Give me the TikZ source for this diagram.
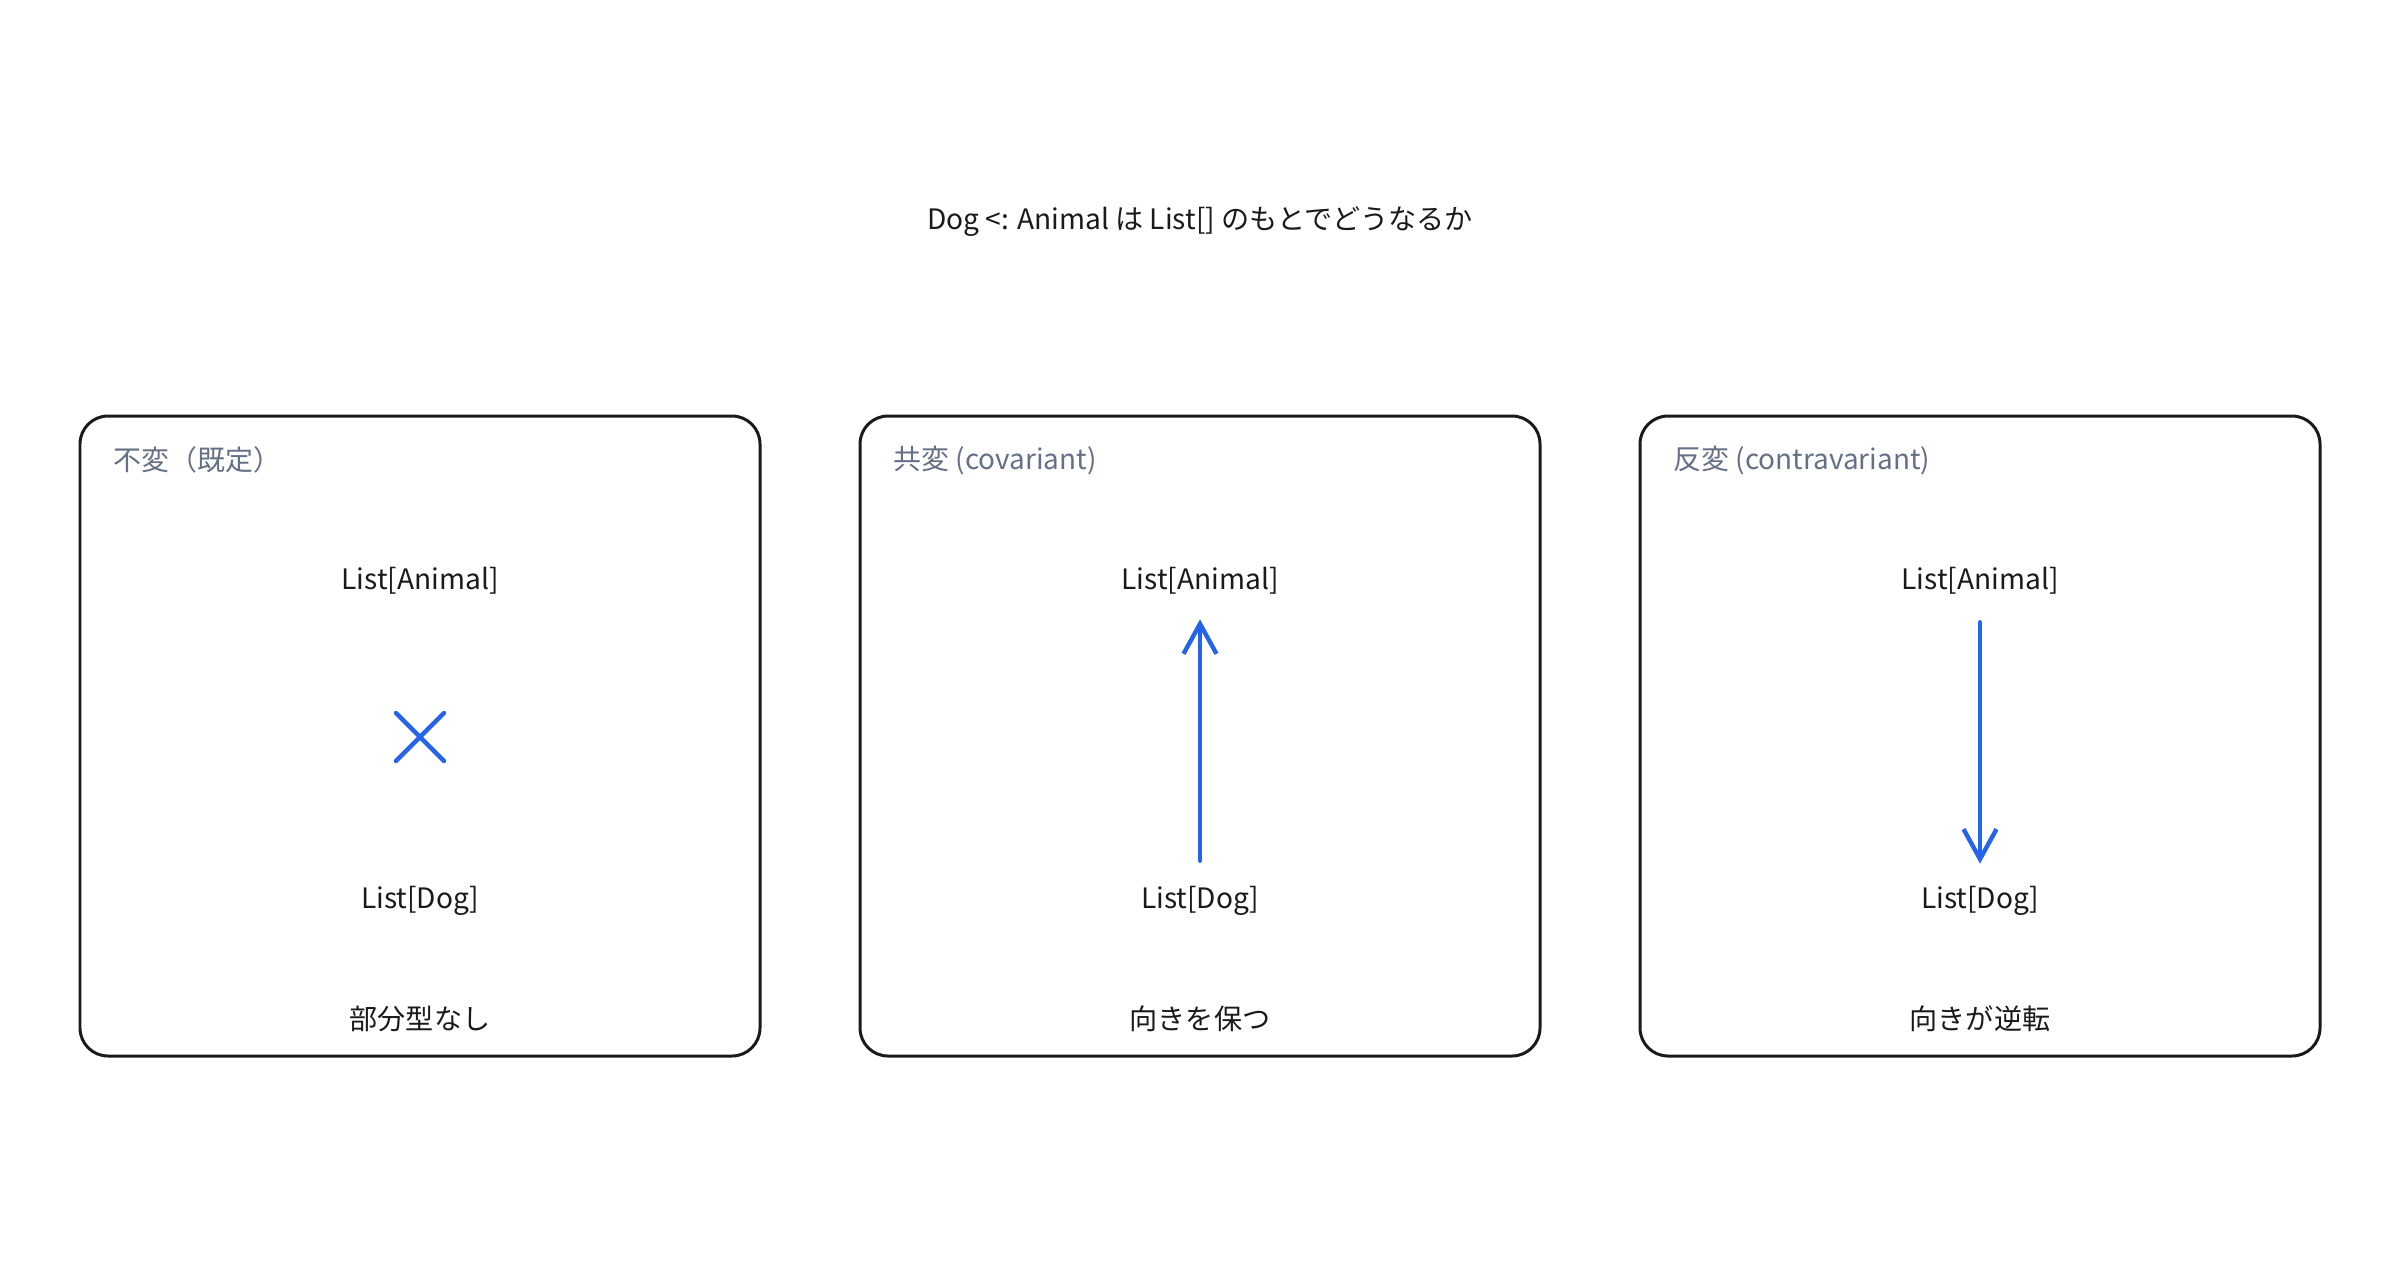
\documentclass[tikz,border=0pt]{standalone}
\usepackage{fontspec}
\setmainfont{Noto Sans CJK JP}
\usetikzlibrary{arrows.meta}
\definecolor{arrowblue}{HTML}{2563EB}
\definecolor{labelgray}{HTML}{667085}
\definecolor{inkblack}{HTML}{1A1A1A}

\begin{document}
\begin{tikzpicture}[x=0.1mm,y=-0.1mm,
  panel/.style={draw=inkblack,line width=0.85pt,rounded corners=2.8mm},
  paneltitle/.style={anchor=west,text=labelgray,inner sep=0pt,font=\fontsize{7.95pt}{9.5pt}\selectfont},
  typename/.style={text=inkblack,inner sep=0pt,font=\fontsize{8pt}{10pt}\selectfont},
  relarrow/.style={draw=arrowblue,line width=1.25pt,line cap=round,
    -{Straight Barb[length=3mm,width=3.3mm]},shorten <=2.5mm,shorten >=2.4mm},
  crossmark/.style={draw=arrowblue,line width=1.25pt,line cap=round}]
  \useasboundingbox (0,0) rectangle (2400,1260);

  % Title
  \node[typename] (title) at (1200,222) {Dog <: Animal は List[] のもとでどうなるか};

  % Invariant
  \draw[panel] (80,416) rectangle (760,1056);
  \node[paneltitle] (inv) at (113,460) {不変（既定）};
  \node[typename] (animal1) at (420,581) {List[Animal]};
  \node[typename] (dog1) at (420,901) {List[Dog]};
  \node[typename] (note1) at (420,1019) {部分型なし};
  \coordinate (cross) at (420,737);
  \draw[crossmark] (cross) ++(-24,-24) -- ++(48,48);
  \draw[crossmark] (cross) ++(-24,24) -- ++(48,-48);

  % Covariant
  \draw[panel] (860,416) rectangle (1540,1056);
  \node[paneltitle] (cov) at (893,460) {共変 (covariant)};
  \node[typename] (animal2) at (1200,581) {List[Animal]};
  \node[typename] (dog2) at (1200,901) {List[Dog]};
  \node[typename] (note2) at (1200,1019) {向きを保つ};
  \draw[relarrow] (dog2) -- (animal2);

  % Contravariant
  \draw[panel] (1640,416) rectangle (2320,1056);
  \node[paneltitle] (contra) at (1673,460) {反変 (contravariant)};
  \node[typename] (animal3) at (1980,581) {List[Animal]};
  \node[typename] (dog3) at (1980,901) {List[Dog]};
  \node[typename] (note3) at (1980,1019) {向きが逆転};
  \draw[relarrow,shorten <=2.7mm,shorten >=2.2mm] (animal3) -- (dog3);
\end{tikzpicture}
\end{document}
